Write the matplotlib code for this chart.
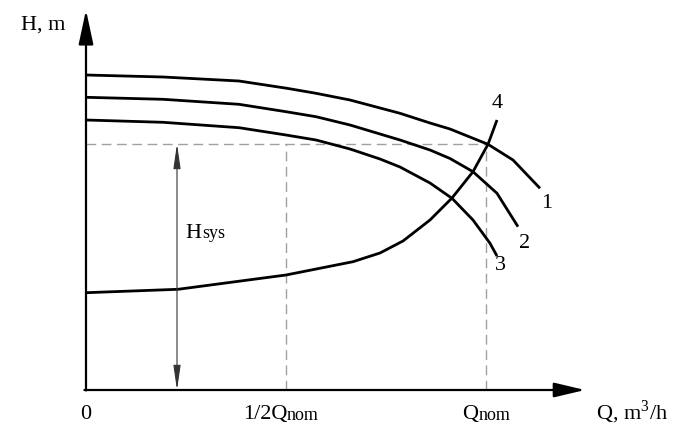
import matplotlib
matplotlib.use("Agg")
import matplotlib.pyplot as plt

plt.rcParams['font.family'] = ['Liberation Serif', 'DejaVu Serif']
plt.rcParams['mathtext.fontset'] = 'custom'
plt.rcParams['mathtext.rm'] = 'Liberation Serif'

# Q in fractions of Q_nom, H in m
# pump curves 1..3, system curve 4
q1 = [0, 0.1925, 0.3825, 0.5025, 0.575, 0.66, 0.785, 0.86, 0.91, 1.005, 1.0675, 1.135]
h1 = [31.5, 31.3, 30.9, 30.17, 29.67, 29.0, 27.67, 26.7, 26.1, 24.57, 23.0, 20.17]

q2 = [0, 0.1925, 0.3825, 0.5, 0.575, 0.66, 0.785, 0.86, 0.91, 0.9675, 1.0275, 1.08]
h2 = [29.27, 29.07, 28.57, 27.83, 27.33, 26.5, 25.0, 24.0, 23.15, 21.83, 19.67, 16.33]

q3 = [0, 0.1925, 0.3825, 0.5, 0.575, 0.66, 0.735, 0.785, 0.86, 0.915, 0.9675, 1.01, 1.0275]
h3 = [27.0, 26.77, 26.23, 25.5, 25.0, 24.1, 23.1, 22.3, 20.7, 19.17, 17.0, 14.67, 13.4]

q4 = [0, 0.23, 0.5, 0.6675, 0.735, 0.7925, 0.86, 0.915, 0.9675, 1.005, 1.0275]
h4 = [9.73, 10.07, 11.5, 12.83, 13.7, 14.9, 17.0, 19.2, 21.83, 24.57, 27.0]

curve_labels = ['1', '2', '3', '4']
q_nom = 1.0
q_half = 0.5
h_sys = 24.6
q_arrow = 0.2275

fig = plt.figure(figsize=(6.89, 4.25), dpi=100)
ax = fig.add_axes([0, 0, 1, 1])
ax.set_xlim(-0.215, 1.5075)
ax.set_ylim(-3.5, 39)
ax.axis('off')

# axes with arrows
ax.annotate('', xy=(0, 38), xytext=(0, -0.05),
            arrowprops=dict(arrowstyle='-|>,head_length=2.1,head_width=0.45',
                            color='black', lw=1.6, shrinkA=0, shrinkB=0))
ax.annotate('', xy=(1.2475, 0), xytext=(-0.004, 0),
            arrowprops=dict(arrowstyle='-|>,head_length=1.9,head_width=0.45',
                            color='black', lw=1.6, shrinkA=0, shrinkB=0))

# dashed helper lines
dash = dict(color='#a0a0a0', lw=1.0, dashes=(7, 4))
ax.plot([0, q_nom], [h_sys, h_sys], **dash)
ax.plot([q_half, q_half], [0, h_sys], **dash)
ax.plot([q_nom, q_nom], [0, h_sys], **dash)

# H_sys dimension arrow
ax.annotate('', xy=(q_arrow, h_sys), xytext=(q_arrow, 0),
            arrowprops=dict(arrowstyle='<|-|>,head_length=1.5,head_width=0.22',
                            color='#333333', lw=0.8, shrinkA=0, shrinkB=0))

# curves
for q, h in [(q1, h1), (q2, h2), (q3, h3), (q4, h4)]:
    ax.plot(q, h, color='black', lw=2.0, solid_capstyle='butt', solid_joinstyle='round')

fs = 16
fs_small = 13
ax.text(1.1525, 18.6, curve_labels[0], fontsize=fs, ha='center', va='center')
ax.text(1.0975, 14.6, curve_labels[1], fontsize=fs, ha='center', va='center')
ax.text(1.035, 12.4, curve_labels[2], fontsize=fs, ha='center', va='center')
ax.text(1.0275, 28.7, curve_labels[3], fontsize=fs, ha='center', va='center')

# H_sys label
ax.text(0.2475, 15.2, 'H', fontsize=fs, ha='left', va='baseline')
ax.text(0.29, 15.2, 'sys', fontsize=fs_small, ha='left', va='baseline')

# axis labels and ticks
ax.text(-0.1075, 36.5, 'H, m', fontsize=fs, ha='center', va='center')
tick_y = -2.9
ax.text(0, tick_y, '0', fontsize=fs, ha='center', va='baseline')
ax.text(0.5025, tick_y, '1/2Q', fontsize=fs, ha='right', va='baseline')
ax.text(0.5025, tick_y - 0.15, 'nom', fontsize=fs_small, ha='left', va='baseline')
ax.text(0.981, tick_y, 'Q', fontsize=fs, ha='right', va='baseline')
ax.text(0.981, tick_y - 0.15, 'nom', fontsize=fs_small, ha='left', va='baseline')
ax.text(1.275, tick_y, r'Q, m$^\mathrm{3}$/h', fontsize=fs, ha='left', va='baseline')

fig.savefig('out.png', dpi=100)
